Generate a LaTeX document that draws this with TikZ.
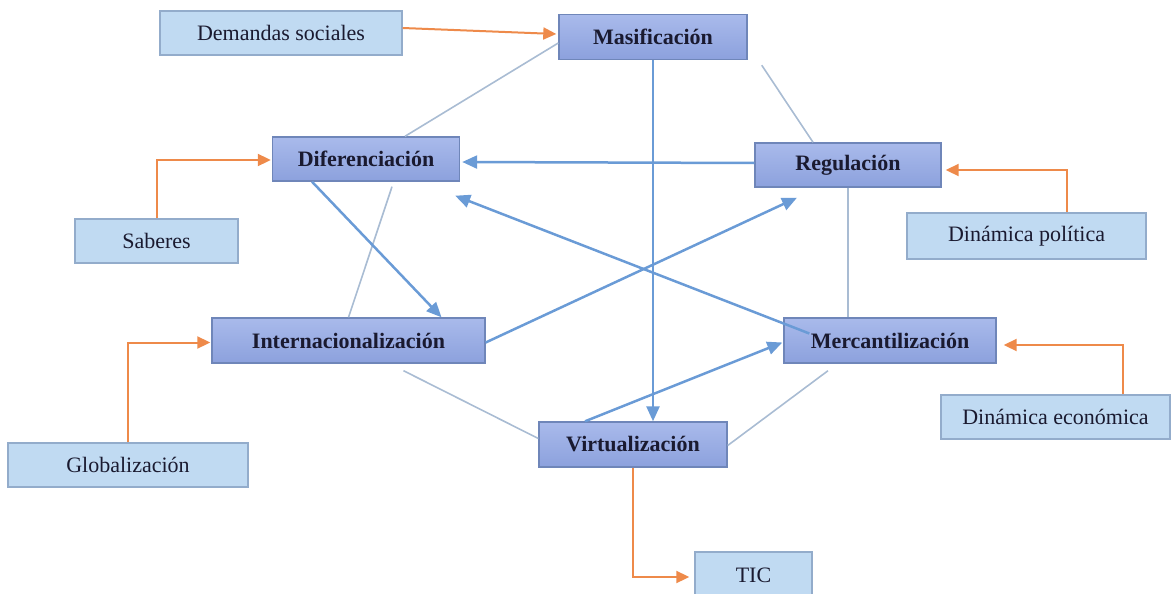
\documentclass[tikz,border=0pt]{standalone}
\usepackage{fontspec}
\setmainfont{Liberation Serif}
\usetikzlibrary{arrows.meta,calc}
\definecolor{mainfillA}{HTML}{A9BAEB}
\definecolor{mainfillB}{HTML}{8CA1DD}
\definecolor{mainborder}{HTML}{6F86B9}
\definecolor{subfill}{HTML}{C0DAF2}
\definecolor{subborder}{HTML}{93ACCB}
\definecolor{orangeline}{HTML}{EE8A4A}
\definecolor{bluearrow}{HTML}{6A9BD6}
\definecolor{thinline}{HTML}{A9BCD3}
\definecolor{txt}{HTML}{1A1A30}
\tikzset{
  mainbox/.style={draw=mainborder, line width=1.4pt, top color=mainfillA, bottom color=mainfillB,
    font=\fontsize{22}{26}\selectfont\bfseries, text=txt, inner sep=0pt},
  subbox/.style={draw=subborder, line width=1.4pt, fill=subfill,
    font=\fontsize{22}{26}\selectfont, text=txt, inner sep=0pt},
  oarrow/.style={draw=orangeline, line width=2pt, -{Triangle[length=13pt,width=12pt]}},
  barrow/.style={draw=bluearrow, line width=2.5pt, -{Triangle[length=15pt,width=13pt]}},
  tline/.style={draw=thinline, line width=1.6pt},
}
\begin{document}
\begin{tikzpicture}[x=1pt,y=-1pt]
\useasboundingbox (0,0) rectangle (1172,594);
% main nodes
\node[mainbox, minimum width=188pt, minimum height=45pt] (mas) at (653,37) {Masificación};
\node[mainbox, minimum width=187pt, minimum height=44pt] (dif) at (366,159) {Diferenciación};
\node[mainbox, minimum width=186pt, minimum height=44pt] (reg) at (848,165) {Regulación};
\node[mainbox, minimum width=273pt, minimum height=45pt] (int) at (348.5,340.5) {Internacionalización};
\node[mainbox, minimum width=212pt, minimum height=45pt] (mer) at (890,340.5) {Mercantilización};
\node[mainbox, minimum width=188pt, minimum height=45pt] (vir) at (633,444.5) {Virtualización};
% secondary nodes
\node[subbox, minimum width=242pt, minimum height=44pt] (dem) at (281,33) {Demandas sociales};
\node[subbox, minimum width=163pt, minimum height=44pt] (sab) at (156.5,241) {Saberes};
\node[subbox, minimum width=239pt, minimum height=46pt] (dpo) at (1026.5,236) {Dinámica política};
\node[subbox, minimum width=240pt, minimum height=44pt] (glo) at (128,465) {Globalización};
\node[subbox, minimum width=229pt, minimum height=44pt] (dec) at (1055.5,417) {Dinámica económica};
\node[subbox, minimum width=117pt, minimum height=46pt] (tic) at (753.5,575) {TIC};
% thin relation lines
\draw[tline] ([yshift=-6pt]mas.west) -- ([xshift=39pt]dif.north);
\draw[tline] ([xshift=14pt,yshift=-5pt]mas.south east) -- ([xshift=-35pt]reg.north);
\draw[tline] ([xshift=26pt,yshift=-5pt]dif.south) -- (int.north);
\draw[tline] (reg.south) -- (reg.south |- mer.north);
\draw[tline] ([xshift=55pt,yshift=-7pt]int.south) -- ([yshift=6pt]vir.west);
\draw[tline] ([xshift=-62pt,yshift=-7pt]mer.south) -- ([yshift=-1pt]vir.east);
% blue arrows
\draw[barrow] (mas.south) -- (mas.south |- vir.north);
\draw[barrow] ([yshift=2pt]reg.west) -- ([xshift=2pt,yshift=-3pt]dif.east);
\draw[barrow] ([xshift=26pt,yshift=7pt]mer.west) -- ([xshift=-5pt,yshift=-14pt]dif.south east);
\draw[barrow] ([xshift=-54pt]dif.south) -- ([xshift=93pt]int.north);
\draw[barrow] ([yshift=-2pt]int.east) -- ([xshift=-51pt,yshift=-10pt]reg.south);
\draw[barrow] ([xshift=-48pt]vir.north) -- ([xshift=-1pt,yshift=-2pt]mer.west);
% orange arrows
\draw[oarrow] ([yshift=5pt]dem.east) -- ([xshift=-2pt,yshift=3pt]mas.west);
\draw[oarrow] (sab.north) |- ([xshift=-1pt,yshift=-1pt]dif.west);
\draw[oarrow] (glo.north) |- ([xshift=-1pt,yshift=-2pt]int.west);
\draw[oarrow] ([xshift=40pt]dpo.north) |- ([xshift=4pt,yshift=-5pt]reg.east);
\draw[oarrow] ([xshift=67pt]dec.north) |- ([xshift=7pt,yshift=-4.5pt]mer.east);
\draw[oarrow] (vir.south) |- ([xshift=-5pt,yshift=-2pt]tic.west);
\end{tikzpicture}
\end{document}
